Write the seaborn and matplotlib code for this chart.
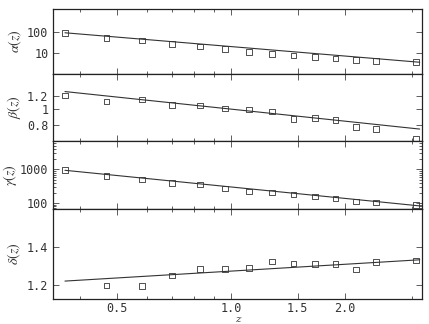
import numpy as np
import pandas as pd
import matplotlib
matplotlib.use('Agg')
import matplotlib.pyplot as plt
import matplotlib.ticker as mticker
import seaborn as sns

sns.set_style('ticks')
plt.rcParams['font.family'] = ['DejaVu Sans Mono', 'DejaVu Sans']
plt.rcParams['mathtext.fontset'] = 'stix'

# binned measurements
z = [0.365, 0.470, 0.582, 0.699, 0.828, 0.966, 1.116, 1.283, 1.464, 1.667, 1.89, 2.138, 2.414, 3.08]
alpha = [89.6, 51.8, 39.8, 26.8, 20.6, 15.5, 11.2, 9.3, 7.7, 6.5, 5.4, 4.8, 4.2, 3.7]
beta = [1.203, 1.107, 1.139, 1.057, 1.048, 1.006, 0.992, 0.965, 0.867, 0.883, 0.859, 0.777, 0.753, 0.661]
gamma = [953, 630, 501, 396, 355, 274, 223, 208, 181, 158, 137, 112, 104, 88]
delta = [np.nan, 1.198, 1.196, 1.251, 1.286, 1.285, 1.289, 1.324, 1.315, 1.311, 1.311, 1.283, 1.322, 1.331]

# fitted power laws (end points)
z_fit = [0.365, 3.15]
alpha_fit = [94.0, 3.65]
beta_fit = [1.27, 0.755]
gamma_fit = [940, 82]
delta_fit = [1.221, 1.334]

df = pd.DataFrame({'z': z, 'alpha': alpha, 'beta': beta, 'gamma': gamma, 'delta': delta})
fit = pd.DataFrame({'z': z_fit, 'alpha': alpha_fit, 'beta': beta_fit, 'gamma': gamma_fit, 'delta': delta_fit})

panels = [
    ('alpha', r'$\alpha(z)$', 'log', (1.0, 1250), [10, 100], ['10', '100'], False, -0.08),
    ('beta', r'$\beta(z)$', 'log', (0.64, 1.62), [0.8, 1.0, 1.2], ['0.8', '1', '1.2'], False, -0.083),
    ('gamma', r'$\gamma(z)$', 'log', (65, 7000), [100, 1000], ['100', '1000'], True, -0.093),
    ('delta', r'$\delta(z)$', 'linear', (1.126, 1.602), [1.2, 1.4], ['1.2', '1.4'], False, -0.083),
]

fig, axes = plt.subplots(4, 1, figsize=(4.29, 3.24), dpi=100, sharex=True,
                         gridspec_kw={'height_ratios': [64.7, 67, 68.3, 89.7], 'hspace': 0})
plt.subplots_adjust(left=0.1242, right=0.9844, top=0.9713, bottom=0.0772)

for ax, (col, label, scale, lim, ticks, labels, minors, lx) in zip(axes, panels):
    sns.lineplot(data=fit, x='z', y=col, ax=ax, color='#333333', linewidth=0.8)
    sns.scatterplot(data=df, x='z', y=col, ax=ax, marker='s', s=16,
                    fc='none', ec='#333333', linewidth=0.6)
    ax.set_xscale('log')
    ax.set_yscale(scale)
    ax.set_xlim(0.34, 3.2)
    ax.set_ylim(*lim)
    ax.yaxis.set_major_locator(mticker.FixedLocator(ticks))
    ax.yaxis.set_major_formatter(mticker.FixedFormatter(labels))
    if minors:
        ax.yaxis.set_minor_locator(mticker.LogLocator(base=10, subs=np.arange(2, 10)))
    else:
        ax.yaxis.set_minor_locator(mticker.NullLocator())
    ax.yaxis.set_minor_formatter(mticker.NullFormatter())
    ax.set_ylabel(label, fontsize=10, color='#333333')
    ax.yaxis.set_label_coords(lx, 0.5)
    ax.set_xlabel('')
    for s in ax.spines.values():
        s.set_linewidth(0.9)
        s.set_color('#222222')
    ax.tick_params(which='both', direction='in', top=True, right=True,
                   labelsize=8.5, labelcolor='#333333', color='#444444', width=0.6)
    ax.tick_params(which='major', length=4)
    ax.tick_params(which='minor', length=2.5)

ax = axes[-1]
ax.xaxis.set_major_locator(mticker.FixedLocator([0.5, 1.0, 1.5, 2.0]))
ax.xaxis.set_major_formatter(mticker.FixedFormatter(['0.5', '1.0', '1.5', '2.0']))
ax.xaxis.set_minor_locator(mticker.FixedLocator([0.4, 0.6, 0.7, 0.8, 0.9, 3.0]))
ax.xaxis.set_minor_formatter(mticker.NullFormatter())
ax.tick_params(axis='x', pad=2.5)
ax.set_xlabel('z', fontsize=7.5, color='#333333', fontstyle='italic',
              family='DejaVu Serif', labelpad=0)

fig.savefig('out.png', dpi=100)
